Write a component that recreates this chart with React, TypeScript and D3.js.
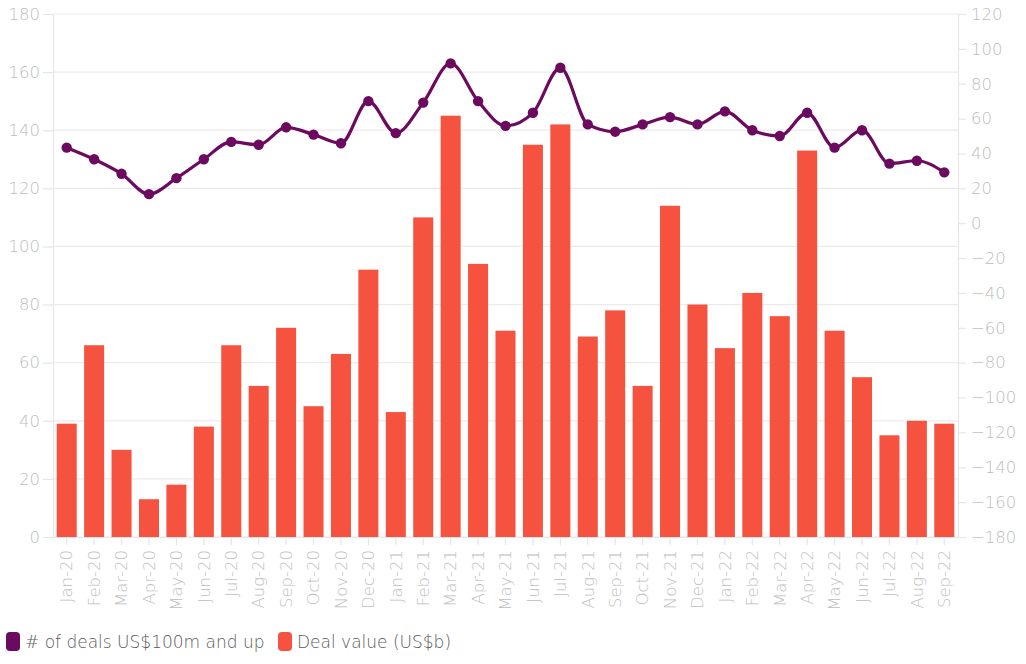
import React, { useEffect, useRef } from 'react';
import * as d3 from 'd3';

const months = [
  'Jan-20', 'Feb-20', 'Mar-20', 'Apr-20', 'May-20', 'Jun-20', 'Jul-20', 'Aug-20', 'Sep-20', 'Oct-20', 'Nov-20', 'Dec-20',
  'Jan-21', 'Feb-21', 'Mar-21', 'Apr-21', 'May-21', 'Jun-21', 'Jul-21', 'Aug-21', 'Sep-21', 'Oct-21', 'Nov-21', 'Dec-21',
  'Jan-22', 'Feb-22', 'Mar-22', 'Apr-22', 'May-22', 'Jun-22', 'Jul-22', 'Aug-22', 'Sep-22',
];

// Deal value (US$b)
const dealValue = [
  39, 66, 30, 13, 18, 38, 66, 52, 72, 45, 63, 92,
  43, 110, 145, 94, 71, 135, 142, 69, 78, 52, 114, 80,
  65, 84, 76, 133, 71, 55, 35, 40, 39,
];

// # of deals US$100m and up
const dealCount = [
  134, 130, 125, 118, 123.5, 130, 136, 135, 141, 138.5, 135.5, 150,
  139, 149.5, 163, 150, 141.5, 146, 161.5, 142, 139.5, 142, 144.5, 142,
  146.5, 140, 138, 146, 134, 140, 128.5, 129.5, 125.5,
];

const leftTicks = [0, 20, 40, 60, 80, 100, 120, 140, 160, 180];
const rightTicks = [-180, -160, -140, -120, -100, -80, -60, -40, -20, 0, 20, 40, 60, 80, 100, 120];

const W = 1026;
const H = 664;
const margin = { top: 14, right: 68, bottom: 127, left: 53 };

const App: React.FC = () => {
  const svgRef = useRef<SVGSVGElement | null>(null);

  useEffect(() => {
    const svg = d3.select(svgRef.current);
    svg.selectAll('*').remove();
    const font = '"DejaVu Sans", sans-serif';
    const tickColor = '#bdbdbd';

    const x = d3
      .scaleBand()
      .domain(months)
      .range([margin.left, W - margin.right])
      .paddingInner(0.27)
      .paddingOuter(0.135);

    const y = d3.scaleLinear().domain([0, 180]).range([H - margin.bottom, margin.top]);
    const y2 = d3.scaleLinear().domain([-180, 120]).range([H - margin.bottom, margin.top]);

    // grid
    svg
      .append('g')
      .selectAll('line')
      .data(leftTicks)
      .enter()
      .append('line')
      .attr('x1', margin.left)
      .attr('x2', W - margin.right)
      .attr('y1', d => y(d))
      .attr('y2', d => y(d))
      .attr('stroke', '#ebebeb')
      .attr('stroke-width', 1.2);

    const styleAxis = (g: any) => {
      g.select('.domain').attr('stroke', '#e6e6e6').attr('stroke-width', 1.2);
      g.selectAll('.tick line').attr('stroke', '#e6e6e6').attr('stroke-width', 1.2);
      g.selectAll('.tick text')
        .attr('fill', tickColor)
        .style('font-family', font)
        .style('font-size', '16.5px')
        .style('font-weight', 200);
    };

    const gl = svg
      .append('g')
      .attr('transform', `translate(${margin.left},0)`)
      .call(d3.axisLeft(y).tickValues(leftTicks).tickSize(10).tickSizeOuter(0).tickPadding(3));
    styleAxis(gl);

    const gr = svg
      .append('g')
      .attr('transform', `translate(${W - margin.right},0)`)
      .call(d3.axisRight(y2).tickValues(rightTicks).tickSize(8).tickSizeOuter(0).tickPadding(5));
    styleAxis(gr);

    const gb = svg
      .append('g')
      .attr('transform', `translate(0,${H - margin.bottom})`)
      .call(d3.axisBottom(x).tickSize(8).tickSizeOuter(0).tickPadding(4) as any);
    styleAxis(gb);
    gb.selectAll('.tick text')
      .attr('transform', 'rotate(-90)')
      .attr('text-anchor', 'end')
      .attr('x', -13)
      .attr('y', 0)
      .attr('dy', '0.35em')
      .style('font-size', '16.5px');

    // bars
    svg
      .append('g')
      .selectAll('rect')
      .data(dealValue)
      .enter()
      .append('rect')
      .attr('x', (_, i) => x(months[i])!)
      .attr('y', d => y(d))
      .attr('width', x.bandwidth())
      .attr('height', d => y(0) - y(d))
      .attr('fill', '#f5523f');

    // line
    const line = d3
      .line<number>()
      .x((_, i) => x(months[i])! + x.bandwidth() / 2)
      .y(d => y(d))
      .curve(d3.curveMonotoneX);

    svg
      .append('path')
      .datum(dealCount)
      .attr('d', line)
      .attr('fill', 'none')
      .attr('stroke', '#6b0a5e')
      .attr('stroke-width', 3.2);

    svg
      .append('g')
      .selectAll('circle')
      .data(dealCount)
      .enter()
      .append('circle')
      .attr('cx', (_, i) => x(months[i])! + x.bandwidth() / 2)
      .attr('cy', d => y(d))
      .attr('r', 5.2)
      .attr('fill', '#6b0a5e');

    // legend
    const legend = [
      { label: '# of deals US$100m and up', color: '#6b0a5e', x: 6 },
      { label: 'Deal value (US$b)', color: '#f5523f', x: 278 },
    ];
    const lg = svg.append('g');
    legend.forEach(l => {
      lg.append('rect')
        .attr('x', l.x)
        .attr('y', 632)
        .attr('width', 14)
        .attr('height', 19)
        .attr('rx', 4)
        .attr('fill', l.color);
      lg.append('text')
        .attr('x', l.x + 19)
        .attr('y', 648)
        .attr('fill', '#5a5a5a')
        .style('font-family', font)
        .style('font-size', '17px')
        .style('font-weight', 200)
        .text(l.label);
    });
  }, []);

  return (
    <div style={{ position: 'absolute', left: 0, top: 0 }}>
      <svg ref={svgRef} width={W} height={H} style={{ display: 'block', background: '#fff' }}></svg>
    </div>
  );
};

export default App;
